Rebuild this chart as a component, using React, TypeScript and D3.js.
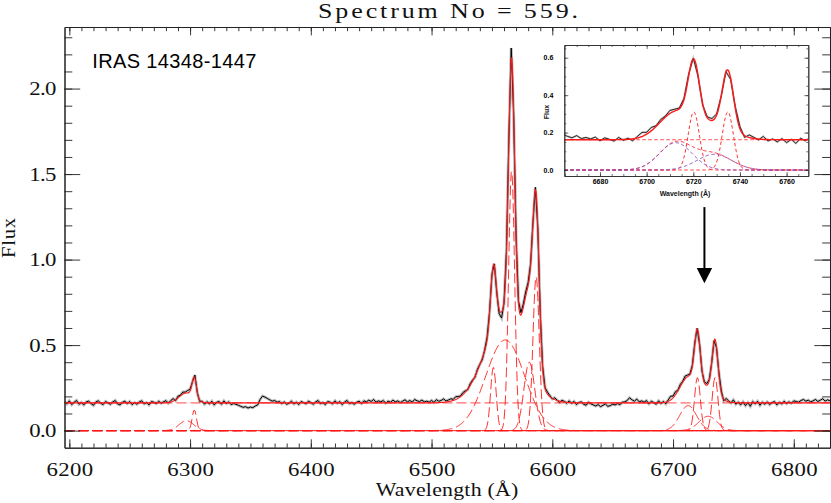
import { useEffect, useRef } from "react"
import * as d3 from "d3"

// fitted continuum level (flux)
const continuum = 0.162

// gaussian fit components: centre (Å), peak flux, sigma (Å)
const oiLines = [
  { c: 6297, a: 0.058, s: 6 },
  { c: 6303.5, a: 0.12, s: 1.8 },
]
const haLines = [
  { c: 6561, a: 0.53, s: 16 },
  { c: 6551.2, a: 0.37, s: 2.3 },
  { c: 6566.3, a: 1.52, s: 2.5 },
  { c: 6581, a: 0.4, s: 4.5 },
  { c: 6586.6, a: 0.9, s: 2.6 },
]
const siiNarrow = [
  { c: 6720.2, a: 0.31, s: 2.4 },
  { c: 6734.8, a: 0.31, s: 2.4 },
]
const siiBroad = [
  { c: 6712.5, a: 0.146, s: 7 },
  { c: 6729, a: 0.084, s: 7.5 },
]

// observed spectrum minus fit, every 2 Å from 6196 Å, in units of 0.001
const residStart = 6196
const residStep = 2
const resid = [
  8, -6, 12, -10, 4, 14, -8, 2, -12, 6, // 6196
  10, -4, -14, 6, 12, -2, -10, 8, 0, -8, // 6216
  6, 14, -6, -12, 4, 10, -4, 8, -10, 2, // 6236
  -8, 6, 12, -6, 2, -12, 8, 4, -4, 10, // 6256
  -2, 6, 12, -4, 8, 14, -6, 10, 4, 12, // 6276
  6, 14, 10, -2, 18, -6, -8, 4, -10, 6, // 6296
  -6, 10, -12, 4, 8, -8, 12, -4, 6, -10, // 6316
  -4, -8, -14, -20, -26, -22, -30, -24, -28, -18, // 6336
  -12, 20, 40, 34, 26, 18, 10, 14, 4, 8, // 6356
  -4, 6, -8, -2, 10, -6, 4, -10, 8, 2, // 6376
  -6, 10, 2, -8, 6, 14, -4, 2, -10, 8, // 6396
  4, -6, 12, -2, 8, -10, 6, 14, -4, 2, // 6416
  -8, 4, 10, -4, 12, 6, 16, 8, 20, 4, // 6436
  12, 6, 14, -2, 10, 4, 16, 6, 12, 2, // 6456
  10, 18, 6, 14, 4, 20, 12, 8, 16, 6, // 6476
  10, 4, 14, 2, 18, 8, 12, 20, 6, 10, // 6496
  14, 6, 16, 10, 4, 12, 8, -4, 10, 6, // 6516
  -6, 8, 2, -10, 6, 14, 8, 10, 12, -14, // 6536
  -25, -35, -10, 8, 20, 60, -10, -4, 10, 14, // 6556
  20, 24, 16, 10, 4, 12, -4, -10, 8, 4, // 6576
  12, 6, -4, 10, 2, -8, 8, 4, -6, 10, // 6596
  -4, 8, -10, 2, 6, -8, -14, 4, -6, -12, // 6616
  -18, -10, -22, -14, -6, -20, -16, -8, -12, -4, // 6636
  -10, 4, 6, 14, 30, 18, 10, 22, 6, 12, // 6656
  4, 14, -6, 10, 2, -8, 12, -4, 6, -10, // 6676
  8, 22, 10, 18, 4, 12, 6, 16, 10, 4, // 6696
  6, 10, 4, -6, -8, 4, 10, 6, -4, 2, // 6716
  -6, 8, 12, -10, 14, 6, -4, 16, -8, 4, // 6736
  -12, 6, -16, 2, -20, 8, -6, 10, -14, 4, // 6756
  -8, 6, -10, 2, 8, -12, 4, -6, 10, -4, // 6776
  6, -2, 12, 8, 4, 14, 20, 10, 16, 6, // 6796
  12, 20, 8, 16, 24, 10, 18, 12, // 6816
]

const xTicks = [6200, 6300, 6400, 6500, 6600, 6700, 6800]
const yTicks = [0, 0.5, 1.0, 1.5, 2.0]
const insetXTicks = [6680, 6700, 6720, 6740, 6760]
const insetYTicks = [0, 0.2, 0.4, 0.6]

type Comp = { c: number; a: number; s: number }
const gauss = (l: number, p: Comp) => p.a * Math.exp(-0.5 * ((l - p.c) / p.s) ** 2)
const allLines = [...oiLines, ...haLines, ...siiNarrow, ...siiBroad]
const total = (l: number) => continuum + d3.sum(allLines, (p) => gauss(l, p))

const serif = "'Liberation Serif', 'DejaVu Serif', serif"
const sans = "'Liberation Sans', Arial, sans-serif"
const RED = "#ff1a1a"
const PURPLE = "#8a50c4"

export default function App() {
  const svgRef = useRef<SVGSVGElement>(null)

  useEffect(() => {
    if (!svgRef.current) return
    const svg = d3.select(svgRef.current)
    svg.selectAll("*").remove()

    const observed = resid.map((r, i) => {
      const l = residStart + i * residStep
      return { l, f: total(l) + r / 1000 }
    })

    // ---------- main panel ----------
    const x = d3.scaleLinear().domain([6196, 6830]).range([64.5, 830])
    const y = d3.scaleLinear().domain([-0.1, 2.36]).range([447.7, 27])
    const grid = d3.range(6196, 6830.01, 0.5)

    svg.append("defs").append("clipPath").attr("id", "mainclip")
      .append("rect").attr("x", 64.5).attr("y", 27).attr("width", 765.5).attr("height", 420.7)

    const plot = svg.append("g").attr("clip-path", "url(#mainclip)")
    const line = d3.line<{ l: number; f: number }>().x((d) => x(d.l)).y((d) => y(d.f))

    plot.append("path").datum(observed).attr("d", line)
      .attr("fill", "none").attr("stroke", "#888").attr("stroke-width", 3).attr("opacity", 0.55)
    plot.append("path").datum(observed).attr("d", line)
      .attr("fill", "none").attr("stroke", "#000").attr("stroke-width", 1)

    plot.append("path").datum(grid.map((l) => ({ l, f: total(l) }))).attr("d", line)
      .attr("fill", "none").attr("stroke", RED).attr("stroke-width", 1.1)

    // dashed components
    plot.append("path").datum(grid.map((l) => ({ l, f: continuum }))).attr("d", line)
      .attr("fill", "none").attr("stroke", RED).attr("stroke-width", 0.9).attr("stroke-dasharray", "10,4")
    allLines.forEach((p) => {
      plot.append("path").datum(grid.map((l) => ({ l, f: gauss(l, p) }))).attr("d", line)
        .attr("fill", "none").attr("stroke", RED).attr("stroke-width", 0.9).attr("stroke-dasharray", "10,4")
    })
    const zeroSolidFrom = 6745
    plot.append("path").datum([{ l: zeroSolidFrom, f: 0 }, { l: 6830, f: 0 }]).attr("d", line)
      .attr("fill", "none").attr("stroke", RED).attr("stroke-width", 1)

    // axes, ticks pointing inwards on all four sides
    const axisCol = "#222"
    const tidy = (g: any) => {
      g.select(".domain").attr("stroke", axisCol).attr("stroke-width", 1)
      g.selectAll(".tick line").attr("stroke", axisCol).attr("stroke-width", 0.9)
      g.attr("font-family", serif).attr("font-size", 19)
    }
    const xMinor = d3.range(6200, 6831, 10)
    const yMinor = d3.range(0, 24).map((i) => i / 10)

    svg.append("g").attr("transform", "translate(0,447.7)")
      .call(d3.axisBottom(x).tickValues(xMinor).tickSize(-4.2).tickSizeOuter(0).tickFormat(() => ""))
      .call(tidy)
    svg.append("g").attr("transform", "translate(0,447.7)")
      .call(d3.axisBottom(x).tickValues(xTicks).tickSize(-8.4).tickSizeOuter(0).tickPadding(14.5).tickFormat(d3.format("d")))
      .call(tidy)
      .selectAll("text").attr("transform", "scale(1.2,1)")
      .attr("textLength", 38.9).attr("lengthAdjust", "spacing").attr("fill", "#111")
    svg.append("g").attr("transform", "translate(0,27)")
      .call(d3.axisTop(x).tickValues(xMinor).tickSize(-4.2).tickSizeOuter(0).tickFormat(() => ""))
      .call(tidy)
    svg.append("g").attr("transform", "translate(0,27)")
      .call(d3.axisTop(x).tickValues(xTicks).tickSize(-8.4).tickSizeOuter(0).tickFormat(() => ""))
      .call(tidy)
    svg.append("g").attr("transform", "translate(64.5,0)")
      .call(d3.axisLeft(y).tickValues(yMinor).tickSize(-7.8).tickSizeOuter(0).tickFormat(() => ""))
      .call(tidy)
    svg.append("g").attr("transform", "translate(64.5,0)")
      .call(d3.axisLeft(y).tickValues(yTicks).tickSize(-15.7).tickSizeOuter(0).tickPadding(8).tickFormat(d3.format(".1f")))
      .call(tidy)
      .selectAll("text").attr("x", -8 / 1.2).attr("transform", "scale(1.2,1)")
      .attr("textLength", 22.8).attr("lengthAdjust", "spacing").attr("fill", "#111")
    svg.append("g").attr("transform", "translate(830,0)")
      .call(d3.axisRight(y).tickValues(yMinor).tickSize(-7.8).tickSizeOuter(0).tickFormat(() => ""))
      .call(tidy)
    svg.append("g").attr("transform", "translate(830,0)")
      .call(d3.axisRight(y).tickValues(yTicks).tickSize(-15.7).tickSizeOuter(0).tickFormat(() => ""))
      .call(tidy)

    // titles (glyphs widened a little to mimic the plotting font)
    svg.append("text").attr("transform", "translate(448,17.5) scale(1.3,1)").attr("text-anchor", "middle")
      .attr("font-family", serif).attr("font-size", 20).attr("fill", "#111")
      .attr("textLength", 200).attr("lengthAdjust", "spacing").text("Spectrum No = 559.")
    svg.append("text").attr("transform", "translate(447,496) scale(1.15,1)").attr("text-anchor", "middle")
      .attr("font-family", serif).attr("font-size", 19).attr("fill", "#111")
      .attr("textLength", 124).attr("lengthAdjust", "spacing").text("Wavelength (Å)")
    svg.append("text").attr("transform", "translate(14.5,238) rotate(-90) scale(1.15,1)").attr("text-anchor", "middle")
      .attr("font-family", serif).attr("font-size", 18).attr("fill", "#111")
      .attr("textLength", 34.8).attr("lengthAdjust", "spacing").text("Flux")
    svg.append("text").attr("x", 92.3).attr("y", 68.3)
      .attr("font-family", sans).attr("font-size", 20).attr("fill", "#000")
      .attr("textLength", 164).attr("lengthAdjust", "spacing").text("IRAS 14348-1447")

    // arrow pointing from the inset to the [SII] doublet
    const ax = x(6726)
    svg.append("line").attr("x1", ax).attr("x2", ax).attr("y1", y(1.307)).attr("y2", y(0.94))
      .attr("stroke", "#000").attr("stroke-width", 2)
    svg.append("path")
      .attr("d", `M${ax - 7.7},${y(0.951)} L${ax + 7.7},${y(0.951)} L${ax},${y(0.861)} Z`)
      .attr("fill", "#000")

    // ---------- inset ----------
    const ix = d3.scaleLinear().domain([6664.7, 6769.3]).range([564.3, 808.3])
    const iy = d3.scaleLinear().domain([-0.032, 0.668]).range([176, 45])
    const igrid = d3.range(6664.7, 6769.31, 0.25)
    svg.append("rect").attr("x", 564.3).attr("y", 45).attr("width", 244).attr("height", 131).attr("fill", "#fff")
    svg.select("defs").append("clipPath").attr("id", "insetclip")
      .append("rect").attr("x", 564.3).attr("y", 45).attr("width", 244).attr("height", 131)
    const inset = svg.append("g").attr("clip-path", "url(#insetclip)")
    const iline = d3.line<{ l: number; f: number }>().x((d) => ix(d.l)).y((d) => iy(d.f))

    const iobs = observed.filter((d) => d.l >= 6660 && d.l <= 6772)
    inset.append("path").datum(iobs).attr("d", iline)
      .attr("fill", "none").attr("stroke", "#aaa").attr("stroke-width", 2).attr("opacity", 0.7)
    inset.append("path").datum(iobs).attr("d", iline)
      .attr("fill", "none").attr("stroke", "#000").attr("stroke-width", 0.8)
    inset.append("path").datum(igrid.map((l) => ({ l, f: total(l) }))).attr("d", iline)
      .attr("fill", "none").attr("stroke", RED).attr("stroke-width", 1.4)

    const idash = "3.5,2.5"
    inset.append("path").datum(igrid.map((l) => ({ l, f: continuum }))).attr("d", iline)
      .attr("fill", "none").attr("stroke", RED).attr("stroke-width", 0.9).attr("stroke-dasharray", idash)
    siiNarrow.forEach((p) => {
      inset.append("path").datum(igrid.map((l) => ({ l, f: gauss(l, p) }))).attr("d", iline)
        .attr("fill", "none").attr("stroke", RED).attr("stroke-width", 0.9).attr("stroke-dasharray", idash)
    })
    inset.append("path").datum(igrid.map((l) => ({ l, f: d3.sum(siiBroad, (p) => gauss(l, p)) }))).attr("d", iline)
      .attr("fill", "none").attr("stroke", RED).attr("stroke-width", 0.9).attr("stroke-dasharray", idash)
    siiBroad.forEach((p) => {
      inset.append("path").datum(igrid.map((l) => ({ l, f: gauss(l, p) }))).attr("d", iline)
        .attr("fill", "none").attr("stroke", PURPLE).attr("stroke-width", 1).attr("stroke-dasharray", idash)
    })

    const itidy = (g: any) => {
      g.select(".domain").attr("stroke", "#333").attr("stroke-width", 0.9)
      g.selectAll(".tick line").attr("stroke", "#333").attr("stroke-width", 0.7)
      g.attr("font-family", sans).attr("font-size", 7).attr("font-weight", "bold")
    }
    const ixMinor = d3.range(6665, 6770, 5)
    const iyMinor = d3.range(0, 14).map((i) => i / 20)
    svg.append("g").attr("transform", "translate(0,176)")
      .call(d3.axisBottom(ix).tickValues(ixMinor).tickSize(-2).tickSizeOuter(0).tickFormat(() => "")).call(itidy)
    svg.append("g").attr("transform", "translate(0,176)")
      .call(d3.axisBottom(ix).tickValues(insetXTicks).tickSize(-4).tickSizeOuter(0).tickPadding(3).tickFormat(d3.format("d")))
      .call(itidy)
    svg.append("g").attr("transform", "translate(0,45)")
      .call(d3.axisTop(ix).tickValues(ixMinor).tickSize(-2).tickSizeOuter(0).tickFormat(() => "")).call(itidy)
    svg.append("g").attr("transform", "translate(0,45)")
      .call(d3.axisTop(ix).tickValues(insetXTicks).tickSize(-4).tickSizeOuter(0).tickFormat(() => "")).call(itidy)
    svg.append("g").attr("transform", "translate(564.3,0)")
      .call(d3.axisLeft(iy).tickValues(iyMinor).tickSize(-2).tickSizeOuter(0).tickFormat(() => "")).call(itidy)
    svg.append("g").attr("transform", "translate(564.3,0)")
      .call(d3.axisLeft(iy).tickValues(insetYTicks).tickSize(-4).tickSizeOuter(0).tickPadding(11).tickFormat(d3.format(".1f")))
      .call(itidy)
    svg.append("g").attr("transform", "translate(808.3,0)")
      .call(d3.axisRight(iy).tickValues(iyMinor).tickSize(-2).tickSizeOuter(0).tickFormat(() => "")).call(itidy)
    svg.append("g").attr("transform", "translate(808.3,0)")
      .call(d3.axisRight(iy).tickValues(insetYTicks).tickSize(-4).tickSizeOuter(0).tickFormat(() => "")).call(itidy)

    svg.append("text").attr("x", 685).attr("y", 196).attr("text-anchor", "middle")
      .attr("font-family", sans).attr("font-size", 7).attr("font-weight", "bold").attr("fill", "#111")
      .text("Wavelength (Å)")
    svg.append("text").attr("transform", "translate(548.5,112) rotate(-90)").attr("text-anchor", "middle")
      .attr("font-family", sans).attr("font-size", 7).attr("font-weight", "bold").attr("fill", "#111")
      .text("Flux")
  }, [])

  return (
    <div style={{ position: "absolute", left: 0, top: 0 }}>
      <svg ref={svgRef} width={831} height={503} style={{ display: "block", background: "#fff" }}></svg>
    </div>
  )
}
